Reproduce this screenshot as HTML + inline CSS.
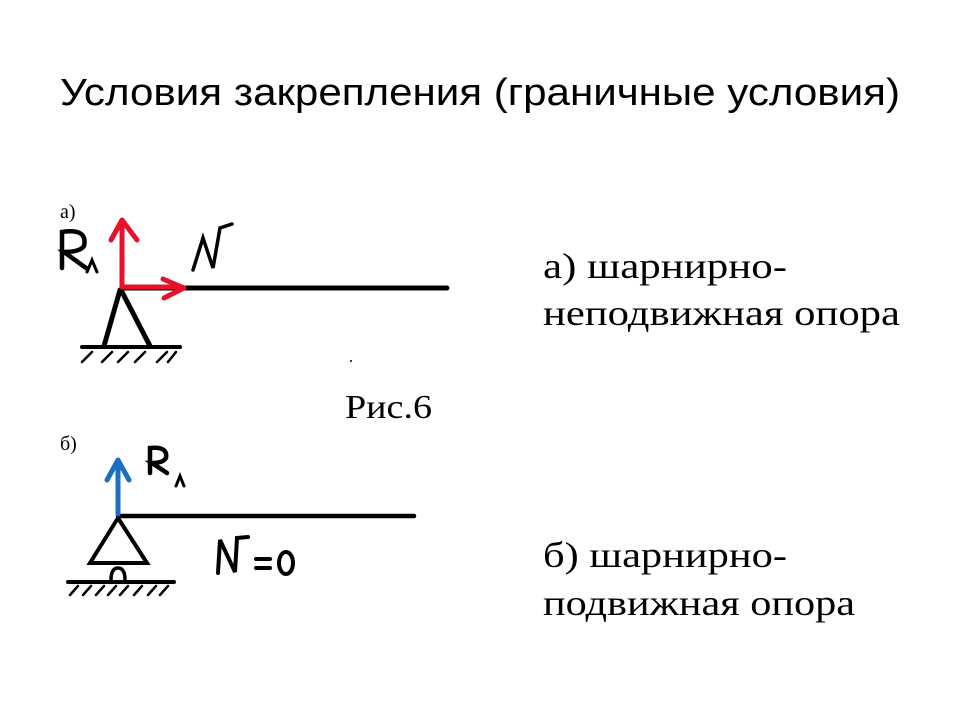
<!DOCTYPE html>
<html><head><meta charset="utf-8"><style>html,body{margin:0;padding:0;background:#fff}svg{display:block}</style></head>
<body>
<svg width="960" height="720" viewBox="0 0 960 720" xmlns="http://www.w3.org/2000/svg">
<rect width="960" height="720" fill="#fff"/>
<text x="60" y="105" font-family="Liberation Sans, sans-serif" font-size="38" textLength="840" lengthAdjust="spacingAndGlyphs">Условия закрепления (граничные условия)</text>

<g font-family="Liberation Serif, serif" fill="#000">
<text x="543" y="278" font-size="36" textLength="244" lengthAdjust="spacingAndGlyphs">а) шарнирно-</text>
<text x="543" y="325" font-size="36" textLength="357" lengthAdjust="spacingAndGlyphs">неподвижная опора</text>
<text x="543" y="567" font-size="36" textLength="244" lengthAdjust="spacingAndGlyphs">б) шарнирно-</text>
<text x="543" y="615" font-size="36" textLength="312" lengthAdjust="spacingAndGlyphs">подвижная опора</text>
<text x="345" y="418" font-size="34" textLength="87" lengthAdjust="spacingAndGlyphs">Рис.6</text>
<text x="60" y="218" font-size="20">а)</text>
<text x="60" y="450" font-size="20">б)</text>
</g>

<!-- a) -->
<g stroke="#000" stroke-width="5" fill="none" stroke-linecap="round">
<line x1="122" y1="288" x2="447" y2="288"/>
<path d="M120 290 L104 346 M121 290 L150 346"/>
<line x1="82" y1="347" x2="180" y2="347" stroke-width="4"/>
<path d="M82 362 L92 352 M102 362 L112 352 M118 362 L128 352 M135 362 L145 352 M157 362 L167 352 M168 362 L176 352" stroke-width="2.5"/>
<path d="M193 270 L203 238 L213 268 L220 228 L232 224" stroke-width="3.5"/>
<path d="M62 268 L62 232 Q88 228 84 246 Q80 252 64 252 L86 268" stroke-width="4.5"/>
<path d="M87 272 L92 260 L97 272" stroke-width="3"/>
</g>
<g stroke="#e8102a" stroke-width="5" fill="none" stroke-linecap="round" stroke-linejoin="round">
<line x1="122" y1="287" x2="122" y2="222"/>
<path d="M111 240 L122 220 L137 240"/>
<line x1="122" y1="287" x2="182" y2="287"/>
<path d="M163 279 L184 288 L164 298"/>
</g>
<circle cx="351" cy="361" r="1" fill="#000"/>

<!-- b) -->
<g stroke="#000" stroke-width="4.5" fill="none" stroke-linecap="round">
<line x1="118" y1="516" x2="414" y2="516"/>
<path d="M118 518 L90 563 L147 563 Z" stroke-width="4"/>
<path d="M111 580 Q111 568 118 568 Q125 568 125 580" stroke-width="3.5"/>
<line x1="68" y1="582" x2="174" y2="582" stroke-width="4"/>
<path d="M70 595 L78 586 M83 595 L91 586 M96 595 L104 586 M108 595 L116 586 M120 595 L128 586 M134 595 L142 586 M148 595 L156 586 M160 595 L168 586" stroke-width="2.5"/>
<path d="M150 473 L150 448 Q168 446 166 458 Q163 463 152 463 L167 473" stroke-width="4.5"/>
<path d="M176 486 L180 476 L184 486" stroke-width="3"/>
<path d="M218 573 L220 540 L235 572 L237 538 L248 537" stroke-width="4"/>
<path d="M256 559 L270 559 M256 568 L270 568" stroke-width="4"/>
<ellipse cx="286" cy="563" rx="7" ry="11" stroke-width="4"/>
</g>
<g stroke="#1a6fc4" stroke-width="5" fill="none" stroke-linecap="round" stroke-linejoin="round">
<line x1="118" y1="514" x2="118" y2="462"/>
<path d="M107 480 L118 460 L129 480"/>
</g>
</svg>
</body></html>
